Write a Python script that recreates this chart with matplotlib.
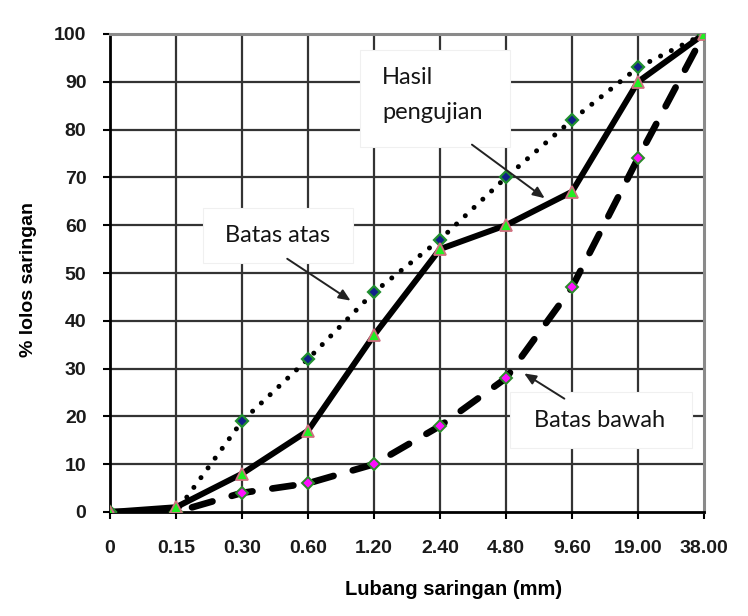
import numpy as np
import matplotlib
matplotlib.use("Agg")
import matplotlib.pyplot as plt
from matplotlib.patches import Rectangle

# ── data ──────────────────────────────────────────────────────────────────────
sieve_labels = ["0", "0.15", "0.30", "0.60", "1.20", "2.40", "4.80", "9.60", "19.00", "38.00"]
batas_atas   = [0, 0, 19, 32, 46, 57, 70, 82, 93, 100]
hasil_uji    = [0, 1, 8, 17, 37, 55, 60, 67, 90, 100]
batas_bawah  = [0, 0, 4, 6, 10, 18, 28, 47, 74, 100]
y_ticks      = list(range(0, 101, 10))

x = np.arange(len(sieve_labels))

# ── figure ────────────────────────────────────────────────────────────────────
fig = plt.figure(figsize=(7.48, 6.16), dpi=100, facecolor="white")
ax = fig.add_axes([110 / 748, 104 / 616, 594 / 748, 478 / 616])
ax.set_xlim(0, len(sieve_labels) - 1)
ax.set_ylim(0, 100)

# grid
for xv in x[1:-1]:
    ax.axvline(xv, color="#333333", lw=1.6, zorder=1)
for yv in y_ticks[1:-1]:
    ax.axhline(yv, color="#333333", lw=1.6, zorder=1)

for side in ["left", "bottom"]:
    ax.spines[side].set_color("black")
    ax.spines[side].set_linewidth(2.0)
for side in ["top", "right"]:
    ax.spines[side].set_color("#8a8a8a")
    ax.spines[side].set_linewidth(2.2)

# ── annotation boxes (under the lines) ───────────────────────────────────────
box_kw = dict(facecolor="white", edgecolor="#f0f0f0", lw=0.8, zorder=2)
ax.add_patch(Rectangle((1.41, 52.1), 2.27, 11.5, **box_kw))
ax.add_patch(Rectangle((3.79, 76.4), 2.27, 20.3, **box_kw))
ax.add_patch(Rectangle((6.06, 13.4), 2.76, 11.7, **box_kw))

# ── lines ─────────────────────────────────────────────────────────────────────
ax.plot(x, batas_atas, color="black", lw=3.6, linestyle=(0, (0.01, 2.4)),
        dash_capstyle="round", zorder=3)
ax.plot(x, batas_bawah, color="black", lw=4.8, linestyle=(0, (3.2, 3.0)),
        dash_capstyle="round", zorder=3)
ax.plot(x, hasil_uji, color="black", lw=4.3, solid_capstyle="round",
        solid_joinstyle="round", zorder=3)

# markers
ax.plot(x, batas_atas, linestyle="none", marker="D", markersize=6,
        markerfacecolor="#10208a", markeredgecolor="#1f8f2f", markeredgewidth=1.6, zorder=4)
ax.plot(x, batas_bawah, linestyle="none", marker="D", markersize=6,
        markerfacecolor="#ff10ff", markeredgecolor="#2a8a2a", markeredgewidth=1.4, zorder=4)
ax.plot(x, hasil_uji, linestyle="none", marker="^", markersize=8,
        markerfacecolor="#22ee22", markeredgecolor="#d07080", markeredgewidth=1.3, zorder=5)

# ── annotation text + arrows ─────────────────────────────────────────────────
txt_kw = dict(fontsize=17, family="Lato", color="#151515", zorder=6)
arrow_kw = dict(arrowstyle="-|>,head_length=0.7,head_width=0.3", color="#222222", lw=1.4)

ax.text(2.545, 57.9, "Batas atas", ha="center", va="center", **txt_kw)
ax.annotate("", xy=(3.68, 43.9), xytext=(2.65, 53.3), arrowprops=arrow_kw, zorder=6)

ax.text(4.12, 90.8, "Hasil", ha="left", va="center", **txt_kw)
ax.text(4.12, 83.5, "pengujian", ha="left", va="center", **txt_kw)
ax.annotate("", xy=(6.62, 65.3), xytext=(5.45, 77.2), arrowprops=arrow_kw, zorder=6)

ax.text(7.42, 19.2, "Batas bawah", ha="center", va="center", **txt_kw)
ax.annotate("", xy=(6.24, 29.3), xytext=(6.92, 23.4), arrowprops=arrow_kw, zorder=6)

# ── axes text ─────────────────────────────────────────────────────────────────
ax.set_xticks(x)
ax.set_xticklabels(sieve_labels)
ax.set_yticks(y_ticks)
ax.tick_params(axis="both", direction="out", length=5, width=1.5, colors="black",
               labelsize=14)
ax.tick_params(axis="x", pad=15)
ax.tick_params(axis="y", pad=12)
for lab in ax.get_xticklabels() + ax.get_yticklabels():
    lab.set_fontweight("bold")
    lab.set_family("Liberation Sans")
    lab.set_color("#1a1a1a")

ax.set_xlabel("Lubang saringan (mm)", fontsize=14.5, fontweight="bold",
              family="Liberation Sans", va="center")
ax.xaxis.set_label_coords(0.579, -0.163)
ax.set_ylabel("% lolos saringan", fontsize=14, fontweight="bold",
              family="Liberation Sans", va="center")
ax.yaxis.set_label_coords(-0.138, 0.487)

fig.savefig("out.png", dpi=100, facecolor="white")
